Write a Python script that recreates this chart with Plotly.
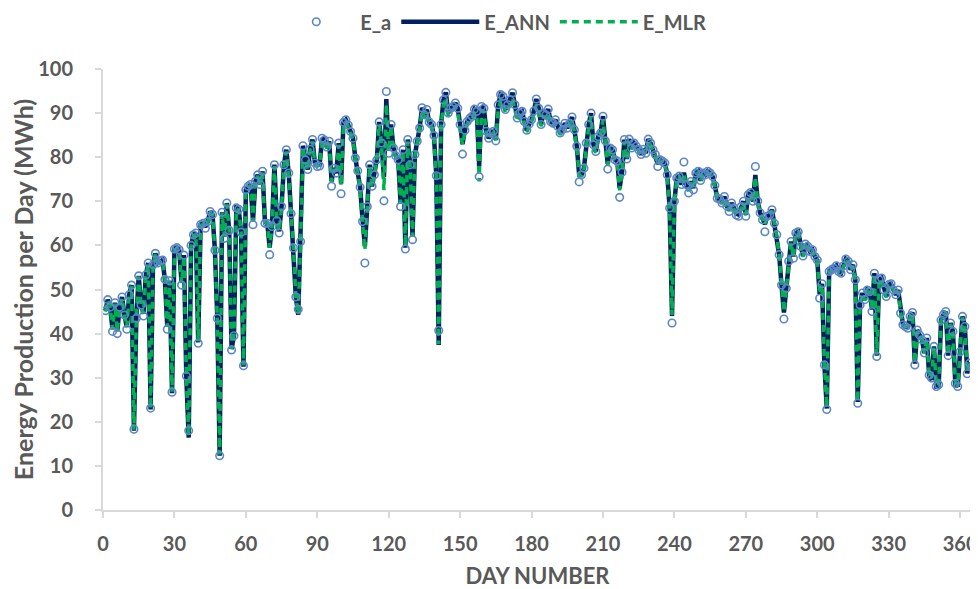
import plotly.graph_objects as go

days = list(range(1, 366))

E_a = [
45.2, 47.7, 46.0, 40.5, 47.0, 40.0, 46.0, 48.3, 44.2, 41.0,
48.8, 51.0, 18.3, 43.5, 53.1, 46.5, 44.0, 53.3, 56.0, 23.1,
55.6, 58.2, 56.0, 56.5, 56.7, 52.3, 41.0, 52.0, 26.7, 59.2,
59.5, 59.0, 51.0, 57.8, 30.4, 18.0, 60.0, 62.4, 62.8, 37.8,
64.7, 65.0, 63.9, 65.4, 67.7, 67.0, 58.9, 43.5, 12.3, 67.5,
61.6, 69.6, 63.4, 36.3, 39.5, 68.5, 68.2, 63.0, 32.7, 72.6,
73.4, 73.8, 64.7, 74.5, 76.0, 73.8, 76.8, 65.0, 65.0, 57.9,
64.3, 78.3, 65.6, 62.8, 68.8, 78.3, 81.7, 76.4, 67.2, 59.4,
48.3, 45.5, 60.9, 82.6, 79.4, 77.2, 81.8, 84.0, 78.7, 77.9,
78.0, 84.3, 83.9, 82.3, 83.6, 73.4, 77.5, 76.4, 83.2, 71.7,
87.9, 88.5, 87.3, 85.8, 84.3, 79.8, 76.9, 73.2, 65.4, 56.0,
68.8, 78.3, 73.4, 76.0, 79.4, 88.0, 83.2, 70.1, 94.9, 80.9,
87.4, 82.1, 80.3, 79.4, 68.8, 81.7, 59.2, 84.0, 78.3, 61.3,
80.6, 83.6, 86.6, 91.2, 89.6, 90.8, 88.0, 87.4, 84.9, 75.8,
40.7, 87.4, 93.0, 94.7, 90.0, 91.1, 91.5, 92.3, 91.1, 87.4,
80.7, 86.1, 88.1, 88.8, 89.3, 90.9, 90.4, 75.6, 91.5, 91.1,
85.9, 84.3, 85.5, 85.9, 83.7, 91.9, 94.2, 93.8, 90.8, 91.9,
93.0, 94.6, 91.9, 88.9, 90.0, 90.4, 88.1, 86.1, 87.5, 88.5,
90.5, 93.2, 91.1, 87.4, 90.0, 89.6, 90.9, 88.1, 87.7, 88.5,
87.0, 85.5, 86.2, 87.7, 86.6, 87.7, 89.1, 86.2, 82.5, 74.4,
76.0, 77.5, 83.2, 87.4, 90.0, 82.8, 81.3, 84.7, 85.5, 89.3,
83.7, 77.3, 82.1, 81.7, 79.4, 79.1, 70.9, 76.6, 84.0, 79.6,
84.1, 82.1, 83.2, 82.5, 81.7, 80.6, 81.8, 80.9, 84.1, 83.2,
81.7, 80.6, 77.9, 79.4, 79.1, 78.7, 76.0, 68.5, 42.4, 70.0,
75.3, 75.7, 73.8, 78.9, 73.8, 71.9, 74.5, 72.6, 76.4, 76.8,
74.7, 76.4, 76.0, 76.8, 76.4, 75.7, 73.6, 70.7, 70.5, 69.6,
71.1, 68.9, 67.7, 69.6, 68.5, 66.9, 66.6, 68.8, 70.0, 66.6,
71.5, 72.0, 70.0, 77.9, 70.0, 67.4, 65.8, 63.1, 66.6, 66.9,
68.1, 65.0, 62.4, 57.9, 51.0, 43.3, 50.3, 56.4, 60.9, 57.1,
62.8, 63.1, 59.8, 57.6, 60.3, 59.8, 58.6, 59.0, 57.5, 56.7,
48.0, 51.3, 32.9, 22.8, 54.1, 54.5, 54.8, 55.4, 54.1, 53.7,
55.4, 56.9, 56.4, 54.5, 55.6, 52.2, 24.2, 46.5, 49.2, 47.7,
49.9, 49.5, 45.0, 53.7, 34.8, 52.2, 52.6, 49.9, 48.4, 51.1,
51.3, 49.9, 48.8, 49.9, 44.6, 42.0, 41.6, 41.2, 43.9, 44.8,
32.9, 40.8, 39.7, 38.6, 35.6, 39.0, 30.6, 29.9, 37.1, 28.0,
28.4, 43.1, 44.3, 45.0, 35.0, 42.4, 40.5, 28.7, 28.0, 35.9,
43.9, 41.6, 30.9, 33.3, 32.5,
]

E_ANN = [
45.2, 47.7, 46.0, 41.0, 47.0, 40.5, 46.0, 48.3, 44.2, 41.5,
48.8, 51.0, 18.0, 43.5, 53.1, 46.5, 44.5, 53.3, 56.0, 22.8,
55.6, 58.2, 56.0, 56.5, 56.7, 52.3, 41.5, 52.0, 26.5, 59.2,
59.5, 59.0, 51.5, 57.8, 30.0, 16.4, 60.0, 62.4, 62.8, 38.0,
64.7, 65.0, 64.2, 65.4, 67.7, 67.0, 59.0, 43.5, 12.3, 67.5,
62.0, 69.6, 63.4, 36.5, 39.5, 68.5, 68.2, 63.0, 32.5, 72.6,
73.4, 73.8, 65.5, 74.5, 76.0, 73.8, 76.8, 65.5, 65.0, 59.5,
64.5, 78.3, 65.6, 63.2, 68.8, 78.3, 81.7, 76.4, 67.2, 59.4,
48.3, 44.3, 60.9, 82.6, 79.4, 77.2, 81.8, 84.0, 78.7, 78.2,
78.3, 84.3, 83.9, 82.3, 83.6, 74.5, 77.5, 76.4, 83.2, 74.0,
87.9, 88.5, 87.3, 85.8, 84.3, 79.8, 76.9, 73.2, 66.0, 59.8,
68.8, 78.3, 73.4, 76.0, 79.4, 88.0, 83.2, 75.5, 93.2, 81.5,
87.4, 82.1, 80.3, 79.4, 69.5, 81.7, 59.5, 84.0, 78.3, 62.0,
80.6, 83.6, 86.6, 91.2, 89.6, 90.8, 88.0, 87.4, 84.9, 75.8,
37.4, 87.4, 93.0, 94.7, 90.0, 91.1, 91.5, 92.3, 91.1, 87.4,
83.0, 86.1, 88.1, 88.8, 89.3, 90.9, 90.4, 78.0, 91.5, 91.1,
85.9, 84.3, 85.5, 85.9, 84.0, 91.9, 94.2, 93.8, 90.8, 91.9,
93.0, 94.6, 91.9, 88.9, 90.0, 90.4, 88.1, 86.1, 87.5, 88.5,
90.5, 93.2, 91.1, 87.4, 90.0, 89.6, 90.9, 88.1, 87.7, 88.5,
87.0, 85.5, 86.2, 87.7, 86.6, 87.7, 89.1, 86.2, 82.5, 76.0,
76.0, 77.5, 83.2, 87.4, 90.0, 82.8, 81.3, 84.7, 85.5, 89.3,
83.7, 78.5, 82.1, 81.7, 79.4, 79.1, 73.0, 76.6, 84.0, 79.6,
84.1, 82.1, 83.2, 82.5, 81.7, 80.6, 81.8, 80.9, 84.1, 83.2,
81.7, 80.6, 78.5, 79.4, 79.1, 78.7, 76.0, 68.5, 44.0, 70.0,
75.3, 75.7, 73.8, 76.5, 73.8, 72.5, 74.5, 73.0, 76.4, 76.8,
74.7, 76.4, 76.0, 76.8, 76.4, 75.7, 73.6, 70.7, 70.5, 69.6,
71.1, 68.9, 68.0, 69.6, 68.5, 67.2, 67.0, 68.8, 70.0, 67.0,
71.5, 72.0, 70.0, 76.0, 70.0, 67.4, 65.8, 64.8, 66.6, 66.9,
68.1, 65.0, 62.4, 57.9, 51.0, 44.8, 50.3, 56.4, 60.9, 57.5,
62.8, 63.1, 59.8, 57.6, 60.3, 59.8, 58.6, 59.0, 57.5, 56.7,
49.0, 51.3, 33.0, 23.0, 54.1, 54.5, 54.8, 55.4, 54.1, 53.7,
55.4, 56.9, 56.4, 54.5, 55.6, 52.2, 24.5, 46.8, 49.2, 47.7,
49.9, 49.5, 45.5, 53.7, 35.0, 52.2, 52.6, 49.9, 48.4, 51.1,
51.3, 49.9, 48.8, 49.9, 44.8, 42.0, 41.6, 41.5, 43.9, 44.8,
33.2, 40.8, 39.7, 38.6, 35.6, 39.0, 30.6, 29.5, 37.1, 28.0,
28.0, 43.1, 44.3, 45.0, 35.0, 42.4, 40.5, 28.5, 28.0, 35.9,
43.9, 41.6, 31.0, 33.3, 32.5,
]

E_MLR = [
45.0, 47.5, 46.0, 41.0, 46.8, 40.5, 46.0, 48.0, 44.2, 41.5,
48.5, 50.8, 18.2, 43.5, 53.0, 46.5, 44.5, 53.0, 55.8, 23.0,
55.5, 58.0, 56.0, 56.5, 56.5, 52.3, 41.5, 52.0, 26.8, 59.0,
59.3, 59.0, 51.5, 57.6, 30.2, 17.0, 59.8, 62.2, 62.6, 38.2,
64.5, 64.8, 64.0, 65.2, 67.5, 66.8, 59.0, 43.5, 12.6, 67.3,
62.0, 69.4, 63.4, 36.5, 39.5, 68.3, 68.0, 63.0, 32.8, 72.4,
73.2, 73.6, 65.5, 74.3, 75.8, 73.6, 76.5, 65.5, 65.0, 59.5,
64.5, 78.0, 65.6, 63.2, 68.6, 78.0, 81.3, 76.2, 67.2, 59.4,
48.3, 44.5, 60.9, 82.2, 79.2, 77.0, 81.5, 83.6, 78.5, 78.0,
78.2, 84.0, 83.6, 82.0, 83.3, 74.5, 77.3, 76.2, 82.8, 73.5,
87.4, 88.0, 86.9, 85.4, 84.0, 79.6, 76.7, 73.0, 65.5, 59.0,
68.6, 78.0, 73.2, 75.8, 79.2, 87.5, 82.8, 72.5, 92.0, 81.2,
87.0, 81.8, 80.0, 79.2, 69.5, 81.4, 59.8, 83.6, 78.0, 62.0,
80.3, 83.3, 86.2, 90.5, 89.0, 90.0, 87.5, 87.0, 84.5, 75.5,
37.6, 87.0, 92.0, 93.5, 89.3, 90.3, 90.7, 91.3, 90.3, 87.0,
82.8, 85.7, 87.6, 88.2, 88.6, 90.0, 89.6, 74.5, 90.6, 90.3,
85.5, 84.0, 85.1, 85.5, 83.8, 90.8, 92.8, 92.5, 90.0, 90.8,
91.8, 93.2, 90.8, 88.2, 89.2, 89.6, 87.6, 85.7, 87.0, 87.9,
89.7, 92.0, 90.3, 87.0, 89.2, 88.9, 90.0, 87.6, 87.2, 87.9,
86.6, 85.1, 85.8, 87.2, 86.2, 87.2, 88.4, 85.8, 82.2, 75.8,
75.8, 77.3, 82.8, 86.9, 89.2, 82.5, 81.0, 84.3, 85.1, 88.5,
83.4, 78.2, 81.8, 81.4, 79.2, 78.9, 72.5, 76.4, 83.6, 79.4,
83.7, 81.8, 82.8, 82.2, 81.4, 80.3, 81.5, 80.6, 83.7, 82.8,
81.4, 80.3, 78.2, 79.2, 78.9, 78.5, 75.8, 68.3, 44.2, 69.8,
75.1, 75.5, 73.6, 76.3, 73.6, 72.3, 74.3, 72.8, 76.2, 76.5,
74.5, 76.2, 75.8, 76.5, 76.2, 75.5, 73.4, 70.5, 70.3, 69.4,
70.9, 68.7, 67.8, 69.4, 68.3, 67.0, 66.8, 68.6, 69.8, 66.8,
71.2, 71.7, 69.8, 75.5, 69.8, 67.2, 65.6, 64.6, 66.4, 66.7,
67.9, 64.8, 62.2, 57.7, 50.8, 45.0, 50.1, 56.2, 60.7, 57.3,
62.6, 62.9, 59.6, 57.4, 60.1, 59.6, 58.4, 58.8, 57.3, 56.5,
49.0, 51.1, 33.2, 23.2, 53.9, 54.3, 54.6, 55.2, 53.9, 53.5,
55.2, 56.7, 56.2, 54.3, 55.4, 52.0, 24.6, 46.8, 49.0, 47.5,
49.7, 49.3, 45.5, 53.5, 35.2, 52.0, 52.4, 49.7, 48.2, 50.9,
51.1, 49.7, 48.6, 49.7, 44.8, 42.0, 41.6, 41.5, 43.7, 44.6,
33.4, 40.6, 39.5, 38.4, 35.6, 38.8, 30.8, 29.8, 37.0, 28.3,
28.3, 42.9, 44.1, 44.8, 35.2, 42.2, 40.3, 28.8, 28.3, 35.7,
43.7, 41.4, 31.2, 33.2, 32.4,
]

x_ticks = [0, 30, 60, 90, 120, 150, 180, 210, 240, 270, 300, 330, 360]
y_ticks = [0, 10, 20, 30, 40, 50, 60, 70, 80, 90, 100]

GRAY = "#595959"
AXIS = "#D9D9D9"
FONT = "Lato"

fig = go.Figure()
fig.add_trace(go.Scatter(
    x=days, y=E_ANN, mode="lines", name="E_ANN", legendrank=2,
    line=dict(color="#002060", width=4.5),
))
fig.add_trace(go.Scatter(
    x=days, y=E_MLR, mode="lines", name="E_MLR", legendrank=3,
    line=dict(color="#00B050", width=3.5, dash="7px,5px"),
))
fig.add_trace(go.Scatter(
    x=days, y=E_a, mode="markers", name="E_a", legendrank=1,
    marker=dict(symbol="circle-open", size=7.5, color="#5B87C8", line=dict(width=1.6)),
))

fig.update_layout(
    width=970, height=581,
    margin=dict(l=95, r=6, t=61, b=79, autoexpand=False),
    plot_bgcolor="white", paper_bgcolor="white",
    font=dict(family=FONT, color=GRAY),
    showlegend=True,
    legend=dict(
        orientation="h", x=0.1948, xanchor="left", y=1.107, yanchor="middle",
        font=dict(family=FONT, size=20, color=GRAY, weight="bold"),
        traceorder="normal", itemwidth=78,
    ),
    xaxis=dict(
        range=[0, 365], tickvals=x_ticks, showgrid=False, zeroline=False,
        showline=True, linecolor=AXIS, linewidth=2, automargin=False,
        ticks="outside", ticklen=6, tickcolor=AXIS, tickwidth=2,
        ticklabelstandoff=9,
        tickfont=dict(family=FONT, size=20, color=GRAY, weight="bold"),
        title=dict(text="DAY NUMBER", standoff=15,
                   font=dict(family=FONT, size=22, color=GRAY, weight="bold")),
    ),
    yaxis=dict(
        range=[0, 100], tickvals=y_ticks, showgrid=False, zeroline=False,
        showline=True, linecolor=AXIS, linewidth=2, automargin=False,
        ticks="outside", ticklen=6, tickcolor=AXIS, tickwidth=2,
        ticklabelstandoff=18,
        tickfont=dict(family=FONT, size=20, color=GRAY, weight="bold"),
        title=dict(text="Energy Production per Day (MWh)", standoff=7,
                   font=dict(family=FONT, size=25, color=GRAY, weight="bold")),
    ),
)

fig.write_html("out.html")
